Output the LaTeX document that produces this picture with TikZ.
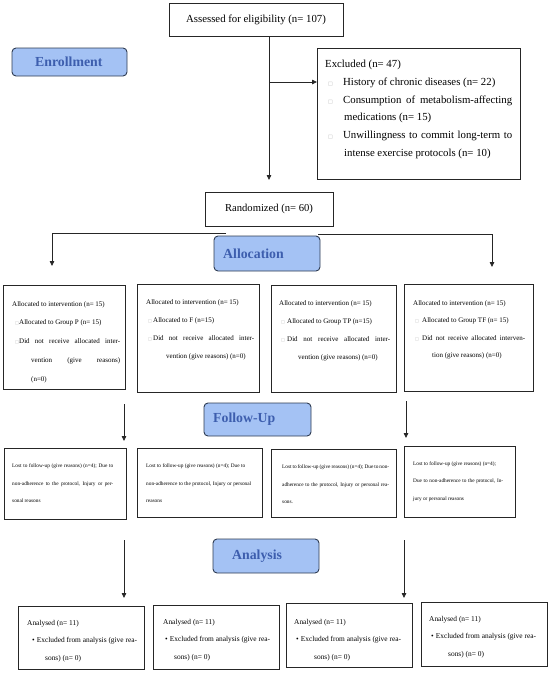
\documentclass[tikz,border=0pt]{standalone}
\usepackage{fontspec}
\setmainfont{Liberation Serif}
\newfontfamily\dejavu{DejaVu Sans}
\usetikzlibrary{arrows.meta}
\definecolor{labfill}{HTML}{A4C2F4}
\definecolor{labtext}{HTML}{3D5EAE}
\definecolor{labline}{HTML}{2E3B52}
\newcommand\fs[2]{\fontsize{#1}{#2}\selectfont}
\newcommand\sqsym[1]{{\dejavu\color{black!30}\fontsize{#1}{#1}\selectfont\symbol{"25A1}}}
\newcommand\frm[5]{\node[frame, minimum width={#4pt-#2pt}, minimum height={#5pt-#3pt}] (#1) at (#2,#3) {};}
\newcommand\labbox[5]{\node[labbox, minimum width={#4pt-#2pt}, minimum height={#5pt-#3pt}] (#1) at (#2,#3) {};}
\begin{document}
\begin{tikzpicture}[x=1pt,y=-1pt,
 frame/.style={draw=black!85, line width=0.8pt, anchor=north west, inner sep=0, outer sep=0},
 labbox/.style={draw=labline, fill=labfill, rounded corners=4pt, line width=0.9pt, anchor=north west, inner sep=0, outer sep=0},
 labtxt/.style={anchor=west, inner sep=0, text=labtext, font=\fs{13.8}{16}\bfseries},
 txt/.style={anchor=base west, inner sep=0, align=left},
 arr/.style={draw=black!85, line width=0.8pt, -{Triangle[length=5pt,width=4.5pt]}}]
\useasboundingbox (0,0) rectangle (550,673);

% ---- Enrollment ----
\frm{assess}{169}{3}{343}{36}
\node[font=\fs{10.8}{13}] (assesst) at (assess.center) {Assessed for eligibility (n= 107)};
\labbox{enr}{12}{48}{127}{76}
\node[labtxt] (enrt) at (35,62) {Enrollment};
\frm{excl}{317}{48}{520}{179}
% anchor = baseline of the last line
\node[txt, font=\fs{10.8}{17.8}] (exclt) at (325,{67.5+5*17.8}) {Excluded (n= 47)\\
\makebox[18pt][l]{\hspace*{3pt}\sqsym{5}}History of chronic diseases (n= 22)\\
\makebox[18pt][l]{\hspace*{3pt}\sqsym{5}}\makebox[169pt][s]{Consumption of metabolism-affecting}\\
\hspace*{19pt}medications (n= 15)\\
\makebox[18pt][l]{\hspace*{3pt}\sqsym{5}}\makebox[169pt][s]{Unwillingness to commit long-term to}\\
\hspace*{19pt}intense exercise protocols (n= 10)};
\frm{rand}{205}{192}{333}{226}
\node[font=\fs{10.6}{13}] (randt) at (rand.center) {Randomized (n= 60)};

\coordinate (jn) at (269,82);
\coordinate (trunkend) at (269,180);
\draw[arr] (assess.south -| jn) -- (trunkend);
\draw[arr] (jn) -- (excl.west |- jn);

% ---- Allocation ----
\labbox{alloc}{214}{236}{320}{271}
\node[labtxt] (alloct) at (223,253.5) {Allocation};
\coordinate (lsplit) at (226,233);
\coordinate (ltip) at (52,266);
\draw[arr] (lsplit) -| (ltip);
\coordinate (rsplit) at (318,234);
\coordinate (rtip) at (492,267);
\draw[arr] (rsplit) -| (rtip);

\frm{b1}{3}{285}{125}{389}
\frm{b2}{137}{284}{259}{392}
\frm{b3}{271}{285}{396}{392}
\frm{b4}{404}{284}{533}{391}
\node[txt, font=\fs{7}{18.8}] (b1t) at (12,{306+4*18.8}) {Allocated to intervention (n= 15)\\
\makebox[7pt][l]{\hspace*{3pt}\sqsym{4}}Allocated to Group P (n= 15)\\
\makebox[7pt][l]{\hspace*{3pt}\sqsym{4}}\makebox[101pt][s]{Did not receive allocated inter-}\\
\hspace*{19pt}\makebox[89pt][s]{vention (give reasons)}\\
\hspace*{19pt}(n=0)};
\node[txt, font=\fs{7}{18}] (b2t) at (146,{304+3*18}) {Allocated to intervention (n= 15)\\
\makebox[7pt][l]{\hspace*{2pt}\sqsym{4}}Allocated to F (n=15)\\
\makebox[7pt][l]{\hspace*{2pt}\sqsym{4}}\makebox[101pt][s]{Did not receive allocated inter-}\\
\hspace*{20pt}vention (give reasons) (n=0)};
\node[txt, font=\fs{7}{18}] (b3t) at (279,{305+3*18}) {Allocated to intervention (n= 15)\\
\makebox[8pt][l]{\hspace*{2pt}\sqsym{4}}Allocated to Group TP (n=15)\\
\makebox[8pt][l]{\hspace*{2pt}\sqsym{4}}\makebox[103pt][s]{Did not receive allocated inter-}\\
\hspace*{19pt}vention (give reasons) (n=0)};
\node[txt, font=\fs{7}{17.5}] (b4t) at (413,{305+3*17.5}) {Allocated to intervention (n= 15)\\
\makebox[9pt][l]{\hspace*{2pt}\sqsym{4}}Allocated to Group TF (n= 15)\\
\makebox[9pt][l]{\hspace*{2pt}\sqsym{4}}\makebox[103pt][s]{Did not receive allocated interven-}\\
\hspace*{19pt}tion (give reasons) (n=0)};

% ---- Follow-Up ----
\labbox{fup}{204}{403}{311}{436}
\node[labtxt] (fupt) at (213,419.5) {Follow-Up};
\coordinate (f1s) at (124,404);
\coordinate (f1e) at (124,441);
\draw[arr] (f1s) -- (f1e);
\coordinate (f2s) at (406,401);
\coordinate (f2e) at (406,438);
\draw[arr] (f2s) -- (f2e);

\frm{f1}{4}{448}{126}{519}
\frm{f2}{137}{448}{262}{517}
\frm{f3}{271}{449}{396}{517}
\frm{f4}{404}{446}{515}{517}
\node[txt, font=\fs{5.3}{17.5}] (f1t) at (12,{467.5+2*17.5}) {\makebox[101pt][s]{Lost to follow-up (give reasons) (n=4); Due to}\\
\makebox[101pt][s]{non-adherence to the protocol, Injury or per-}\\
sonal reasons};
\node[txt, font=\fs{5.3}{17.5}] (f2t) at (146,{467.5+2*17.5}) {\makebox[99pt][s]{Lost to follow-up (give reasons) (n=4); Due to}\\
\makebox[105pt][s]{non-adherence to the protocol, Injury or personal}\\
reasons};
\node[txt, font=\fs{5.3}{17.5}] (f3t) at (282,{468.5+2*17.5}) {\makebox[107pt][s]{Lost to follow-up (give reasons) (n=4); Due to non-}\\
\makebox[107pt][s]{adherence to the protocol, Injury or personal rea-}\\
sons.};
\node[txt, font=\fs{5.3}{17.5}] (f4t) at (413,{465+2*17.5}) {Lost to follow-up (give reasons) (n=4);\\
\makebox[90pt][s]{Due to non-adherence to the protocol, In-}\\
jury or personal reasons};

% ---- Analysis ----
\labbox{ana}{213}{539}{319}{573}
\node[labtxt] (anat) at (232,556) {Analysis};
\coordinate (a1s) at (124,540);
\coordinate (a1e) at (124,598);
\draw[arr] (a1s) -- (a1e);
\coordinate (a2s) at (404,540);
\coordinate (a2e) at (404,598);
\draw[arr] (a2s) -- (a2e);

\frm{an1}{18}{606}{144}{669}
\frm{an2}{153}{605}{279}{669}
\frm{an3}{286}{603}{412}{667}
\frm{an4}{421}{602}{547}{666}
\node[txt, font=\fs{7.4}{17.5}] (an1t) at (27,{625+2*17.5}) {Analysed (n= 11)\\
\hspace*{5pt}•\hspace*{2pt}Excluded from analysis (give rea-\\
\hspace*{18pt}sons) (n= 0)};
\node[txt, font=\fs{7.4}{17.5}] (an2t) at (163,{624+2*17.5}) {Analysed (n= 11)\\
\hspace*{2pt}•\hspace*{2pt}Excluded from analysis (give rea-\\
\hspace*{11pt}sons) (n= 0)};
\node[txt, font=\fs{7.4}{17.5}] (an3t) at (294,{624+2*17.5}) {Analysed (n= 11)\\
\hspace*{2pt}•\hspace*{2pt}Excluded from analysis (give rea-\\
\hspace*{20pt}sons) (n= 0)};
\node[txt, font=\fs{7.4}{17.5}] (an4t) at (429,{621+2*17.5}) {Analysed (n= 11)\\
\hspace*{2pt}•\hspace*{2pt}Excluded from analysis (give rea-\\
\hspace*{19pt}sons) (n= 0)};
\end{tikzpicture}
\end{document}
